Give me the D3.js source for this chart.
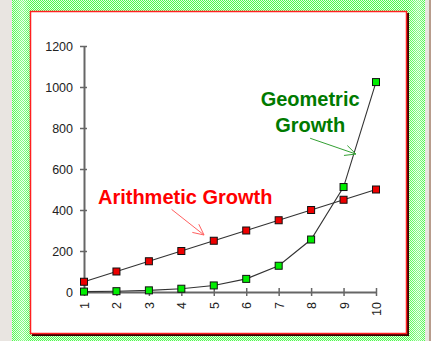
<!DOCTYPE html>
<html>
<head>
<meta charset="utf-8">
<script src="https://cdn.jsdelivr.net/npm/d3@7/dist/d3.min.js"></script>
<style>
  html, body { margin: 0; padding: 0; background: #e9e5e1; }
  svg { display: block; }
  text { font-family: "Liberation Sans", Arial, Helvetica, sans-serif; }
</style>
</head>
<body>
<svg id="chart" width="431" height="341"></svg>
<script>
// Growth over ten periods
const periods = [1, 2, 3, 4, 5, 6, 7, 8, 9, 10];
const arithmetic = [50, 100, 150, 200, 250, 300, 350, 400, 450, 500];
const geometric = [2, 4, 8, 16, 32, 64, 128, 256, 512, 1024];
const yTicks = [0, 200, 400, 600, 800, 1000, 1200];

// Callout labels, positioned in data units
const arithLabel = { text: "Arithmetic Growth", x: 1.43, y: 429 };
const arithArrow = { from: [3.70, 403], to: [4.70, 278] };
const geoLabel = { lines: ["Geometric", "Growth"], x: 7.97, y: 909 };
const geoArrow = { from: [7.97, 750], to: [9.38, 673] };

const W = 431, H = 341;
const svg = d3.select("#chart");
const defs = svg.append("defs");

// dithered green frame
const pat = defs.append("pattern").attr("id", "dither")
  .attr("width", 2).attr("height", 2).attr("patternUnits", "userSpaceOnUse");
pat.append("rect").attr("width", 2).attr("height", 2).attr("fill", "#e4ffe2");
pat.append("rect").attr("x", 0).attr("y", 0).attr("width", 1).attr("height", 1).attr("fill", "#4cf84c");
pat.append("rect").attr("x", 1).attr("y", 1).attr("width", 1).attr("height", 1).attr("fill", "#4cf84c");

// light band inside the frame
const grad = defs.append("linearGradient").attr("id", "band").attr("x1", 0).attr("x2", 1);
grad.append("stop").attr("offset", "0%").attr("stop-color", "#fff").attr("stop-opacity", 0);
grad.append("stop").attr("offset", "60%").attr("stop-color", "#fff").attr("stop-opacity", 0.35);
grad.append("stop").attr("offset", "100%").attr("stop-color", "#fff").attr("stop-opacity", 0);

svg.append("rect").attr("x", 0).attr("y", 0).attr("width", W).attr("height", H).attr("fill", "#e9e5e1");
svg.append("rect").attr("x", 12).attr("y", 0).attr("width", 413).attr("height", H).attr("fill", "url(#dither)");
svg.append("rect").attr("x", 12).attr("y", 0).attr("width", 18).attr("height", H).attr("fill", "url(#band)");
svg.append("rect").attr("x", 408).attr("y", 0).attr("width", 17).attr("height", H).attr("fill", "url(#band)");
svg.append("rect").attr("x", 429).attr("y", 0).attr("width", 2).attr("height", H).attr("fill", "#b89c8c");

// panel with shadow
svg.append("rect").attr("x", 32).attr("y", 13).attr("width", 377).attr("height", 323).attr("fill", "#3a0000");
svg.append("rect").attr("x", 30.5).attr("y", 11.5).attr("width", 376).attr("height", 322)
  .attr("fill", "#fff").attr("stroke", "#ff2020").attr("stroke-width", 1.5);

const x = d3.scaleLinear().domain([1, 10]).range([84, 376]);
const y = d3.scaleLinear().domain([0, 1200]).range([292, 46]);

const axisColor = "#666";

// y axis
const gy = svg.append("g").attr("transform", "translate(84,0)")
  .call(d3.axisLeft(y).tickValues(yTicks).tickFormat(d3.format("d"))
    .tickSizeInner(4).tickSizeOuter(0).tickPadding(7));
gy.select(".domain").attr("stroke", axisColor).attr("stroke-width", 2);
gy.selectAll(".tick line").attr("x1", -4).attr("x2", 3).attr("stroke", axisColor).attr("stroke-width", 1.5);
gy.selectAll(".tick text").attr("fill", "#222").attr("font-size", 12.5).attr("dy", "0.36em");

// x axis
const gx = svg.append("g").attr("transform", "translate(0,292)")
  .call(d3.axisBottom(x).tickValues(periods).tickFormat(d3.format("d")).tickSizeInner(4).tickSizeOuter(0));
gx.select(".domain").attr("stroke", axisColor).attr("stroke-width", 2);
gx.selectAll(".tick line").attr("y1", -4).attr("y2", 4).attr("stroke", axisColor).attr("stroke-width", 1.5);
gx.selectAll(".tick text")
  .attr("fill", "#222").attr("font-size", 12.5)
  .attr("transform", "translate(0,10) rotate(-90)")
  .attr("x", 0).attr("y", 0).attr("dy", "0.36em")
  .attr("text-anchor", "end");

// series
const line = d3.line().x((d, i) => x(periods[i])).y(d => y(d));
function series(values, fill) {
  svg.append("path").datum(values).attr("d", line)
    .attr("fill", "none").attr("stroke", "#333").attr("stroke-width", 1.1);
  svg.append("g").selectAll("rect").data(values).join("rect")
    .attr("x", (d, i) => x(periods[i]) - 3.5)
    .attr("y", d => y(d) - 3.5)
    .attr("width", 7).attr("height", 7)
    .attr("fill", fill).attr("stroke", "#111").attr("stroke-width", 1);
}
series(geometric, "#00ee00");
series(arithmetic, "#ee0000");

// callouts
function arrow(a, color) {
  const x1 = x(a.from[0]), y1 = y(a.from[1]), x2 = x(a.to[0]), y2 = y(a.to[1]);
  const g = svg.append("g").attr("stroke", color).attr("stroke-width", 1).attr("fill", "none");
  g.append("line").attr("x1", x1).attr("y1", y1).attr("x2", x2).attr("y2", y2);
  const ang = Math.atan2(y2 - y1, x2 - x1), len = 12, spread = 0.45;
  [ang + Math.PI - spread, ang + Math.PI + spread].forEach(t => {
    g.append("line").attr("x1", x2).attr("y1", y2)
      .attr("x2", x2 + len * Math.cos(t)).attr("y2", y2 + len * Math.sin(t));
  });
}

svg.append("text").attr("x", x(arithLabel.x)).attr("y", y(arithLabel.y))
  .attr("fill", "#ff0000").attr("font-weight", "bold").attr("font-size", 20)
  .text(arithLabel.text);
arrow(arithArrow, "#ff6060");

const gt = svg.append("text").attr("fill", "#007a00").attr("font-weight", "bold")
  .attr("font-size", 20).attr("text-anchor", "middle");
geoLabel.lines.forEach((s, i) => {
  gt.append("tspan").attr("x", x(geoLabel.x)).attr("y", y(geoLabel.y) + i * 26).text(s);
});
arrow(geoArrow, "#33a033");
</script>
</body>
</html>
